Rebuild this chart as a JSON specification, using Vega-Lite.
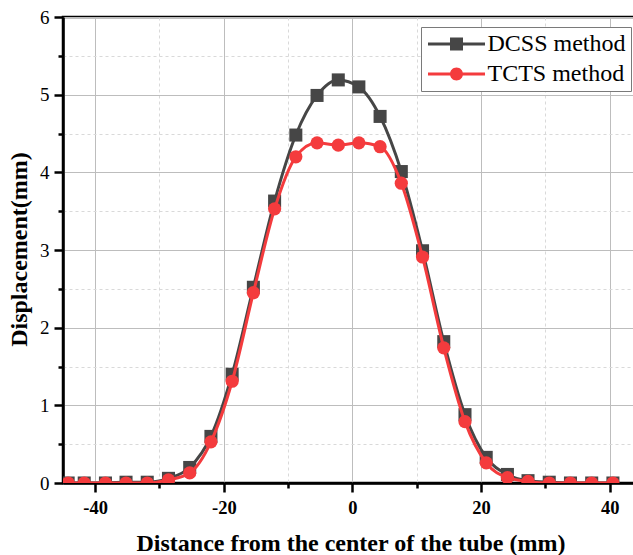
{
  "$schema": "https://vega.github.io/schema/vega-lite/v6.json",
  "autosize": {"type": "none"},
  "padding": {"left": 63, "top": 17, "right": 0, "bottom": 72},
  "width": 575,
  "height": 466,
  "background": "white",
  "config": {
    "view": {"stroke": "black", "strokeWidth": 2.5},
    "font": "Liberation Serif"
  },
  "data": {
    "values": [
      {"x": -44.2, "y": 0.0, "series": "DCSS method"},
      {"x": -41.7, "y": 0.0, "series": "DCSS method"},
      {"x": -38.4, "y": 0.0, "series": "DCSS method"},
      {"x": -35.2, "y": 0.01, "series": "DCSS method"},
      {"x": -31.9, "y": 0.01, "series": "DCSS method"},
      {"x": -28.6, "y": 0.06, "series": "DCSS method"},
      {"x": -25.3, "y": 0.2, "series": "DCSS method"},
      {"x": -22.0, "y": 0.6, "series": "DCSS method"},
      {"x": -18.7, "y": 1.4, "series": "DCSS method"},
      {"x": -15.4, "y": 2.52, "series": "DCSS method"},
      {"x": -12.1, "y": 3.63, "series": "DCSS method"},
      {"x": -8.8, "y": 4.48, "series": "DCSS method"},
      {"x": -5.5, "y": 4.99, "series": "DCSS method"},
      {"x": -2.2, "y": 5.19, "series": "DCSS method"},
      {"x": 1.0, "y": 5.1, "series": "DCSS method"},
      {"x": 4.3, "y": 4.72, "series": "DCSS method"},
      {"x": 7.6, "y": 4.01, "series": "DCSS method"},
      {"x": 10.9, "y": 2.99, "series": "DCSS method"},
      {"x": 14.2, "y": 1.82, "series": "DCSS method"},
      {"x": 17.5, "y": 0.88, "series": "DCSS method"},
      {"x": 20.8, "y": 0.33, "series": "DCSS method"},
      {"x": 24.1, "y": 0.11, "series": "DCSS method"},
      {"x": 27.3, "y": 0.03, "series": "DCSS method"},
      {"x": 30.6, "y": 0.01, "series": "DCSS method"},
      {"x": 33.9, "y": 0.0, "series": "DCSS method"},
      {"x": 37.2, "y": 0.0, "series": "DCSS method"},
      {"x": 40.5, "y": 0.0, "series": "DCSS method"},
      {"x": -44.2, "y": 0.0, "series": "TCTS method"},
      {"x": -41.7, "y": 0.0, "series": "TCTS method"},
      {"x": -38.4, "y": 0.0, "series": "TCTS method"},
      {"x": -35.2, "y": 0.0, "series": "TCTS method"},
      {"x": -31.9, "y": 0.0, "series": "TCTS method"},
      {"x": -28.6, "y": 0.04, "series": "TCTS method"},
      {"x": -25.3, "y": 0.13, "series": "TCTS method"},
      {"x": -22.0, "y": 0.53, "series": "TCTS method"},
      {"x": -18.7, "y": 1.31, "series": "TCTS method"},
      {"x": -15.4, "y": 2.45, "series": "TCTS method"},
      {"x": -12.1, "y": 3.53, "series": "TCTS method"},
      {"x": -8.8, "y": 4.2, "series": "TCTS method"},
      {"x": -5.5, "y": 4.38, "series": "TCTS method"},
      {"x": -2.2, "y": 4.35, "series": "TCTS method"},
      {"x": 1.0, "y": 4.38, "series": "TCTS method"},
      {"x": 4.3, "y": 4.33, "series": "TCTS method"},
      {"x": 7.6, "y": 3.86, "series": "TCTS method"},
      {"x": 10.9, "y": 2.91, "series": "TCTS method"},
      {"x": 14.2, "y": 1.74, "series": "TCTS method"},
      {"x": 17.5, "y": 0.79, "series": "TCTS method"},
      {"x": 20.8, "y": 0.26, "series": "TCTS method"},
      {"x": 24.1, "y": 0.07, "series": "TCTS method"},
      {"x": 27.3, "y": 0.02, "series": "TCTS method"},
      {"x": 30.6, "y": 0.0, "series": "TCTS method"},
      {"x": 33.9, "y": 0.0, "series": "TCTS method"},
      {"x": 37.2, "y": 0.0, "series": "TCTS method"},
      {"x": 40.5, "y": 0.0, "series": "TCTS method"}
    ]
  },
  "encoding": {
    "x": {
      "field": "x", "type": "quantitative",
      "scale": {"domain": [-45, 44.4], "nice": false, "zero": false},
      "axis": {
        "title": "Distance from the center of the tube (mm)",
        "values": [-40, -30, -20, -10, 0, 10, 20, 30, 40],
        "labelExpr": "datum.value % 20 === 0 ? '' + datum.value : ''",
        "labelFont": "Liberation Serif", "labelFontWeight": "bold", "labelFontSize": 18.5, "labelColor": "black",
        "labelPadding": 6,
        "tickSize": {"condition": {"test": "datum.value % 20 === 0", "value": 9}, "value": 5},
        "tickWidth": 2.5, "tickColor": "black",
        "domainColor": "black", "domainWidth": 2.5,
        "grid": true,
        "gridColor": {"condition": {"test": "datum.value % 20 === 0", "value": "#bdbdbd"}, "value": "#d9d9d9"},
        "gridDash": {"condition": {"test": "datum.value % 20 === 0", "value": []}, "value": [3, 3]},
        "gridWidth": 1,
        "titleFont": "Liberation Serif", "titleFontWeight": "bold", "titleFontSize": 24, "titleColor": "black",
        "titlePadding": 15
      }
    },
    "y": {
      "field": "y", "type": "quantitative",
      "scale": {"domain": [0, 6], "nice": false},
      "axis": {
        "title": "Displacement(mm)",
        "values": [0, 0.5, 1, 1.5, 2, 2.5, 3, 3.5, 4, 4.5, 5, 5.5, 6],
        "labelExpr": "datum.value % 1 === 0 ? '' + datum.value : ''",
        "labelFont": "Liberation Serif", "labelFontWeight": "normal", "labelFontSize": 19, "labelColor": "black",
        "labelPadding": 5,
        "tickSize": {"condition": {"test": "datum.value % 1 === 0", "value": 9}, "value": 5},
        "tickWidth": 2.5, "tickColor": "black",
        "domainColor": "black", "domainWidth": 2.5,
        "grid": true,
        "gridColor": {"condition": {"test": "datum.value % 1 === 0", "value": "#bdbdbd"}, "value": "#d9d9d9"},
        "gridDash": {"condition": {"test": "datum.value % 1 === 0", "value": []}, "value": [3, 3]},
        "gridWidth": 1,
        "titleFont": "Liberation Serif", "titleFontWeight": "bold", "titleFontSize": 24, "titleColor": "black",
        "titlePadding": 8,
        "titleY": 232
      }
    },
    "color": {
      "field": "series", "type": "nominal",
      "scale": {"domain": ["DCSS method", "TCTS method"], "range": ["#464646", "#f43b3d"]},
      "legend": {
        "title": null,
        "orient": "none",
        "legendX": 358,
        "legendY": 10,
        "fillColor": "white",
        "strokeColor": "#7a7a7a",
        "padding": 5,
        "rowPadding": 6,
        "symbolSize": 169,
        "symbolOffset": 18.5,
        "labelOffset": 19,
        "labelFont": "Liberation Serif",
        "labelFontSize": 24,
        "labelColor": "black",
        "labelLimit": 300,
        "encode": {
          "legend": {"update": {"strokeWidth": {"value": 1}}},
          "symbols": {
            "update": {
              "shape": {"signal": "datum.value === 'DCSS method' ? 'M-4.385,-0.23H4.385V0.23H-4.385Z M-1,-1H1V1H-1Z' : 'M-4.385,-0.23H4.385V0.23H-4.385Z M-1,0A1,1 0 1,1 1,0A1,1 0 1,1 -1,0Z'"},
              "fill": {"signal": "datum.value === 'DCSS method' ? '#464646' : '#f43b3d'"},
              "stroke": {"value": "transparent"},
              "strokeWidth": {"value": 0},
              "opacity": {"value": 1}
            }
          }
        }
      }
    }
  },
  "layer": [
    {
      "transform": [{"filter": "datum.series === 'DCSS method'"}],
      "mark": {"type": "line", "interpolate": "monotone", "strokeWidth": 3, "clip": true}
    },
    {
      "transform": [{"filter": "datum.series === 'DCSS method'"}],
      "mark": {"type": "point", "shape": "square", "filled": true, "size": 170, "opacity": 1, "clip": true}
    },
    {
      "transform": [{"filter": "datum.series === 'TCTS method'"}],
      "mark": {"type": "line", "interpolate": "monotone", "strokeWidth": 3, "clip": true}
    },
    {
      "transform": [{"filter": "datum.series === 'TCTS method'"}],
      "mark": {"type": "point", "shape": "circle", "filled": true, "size": 175, "opacity": 1, "clip": true}
    }
  ]
}
